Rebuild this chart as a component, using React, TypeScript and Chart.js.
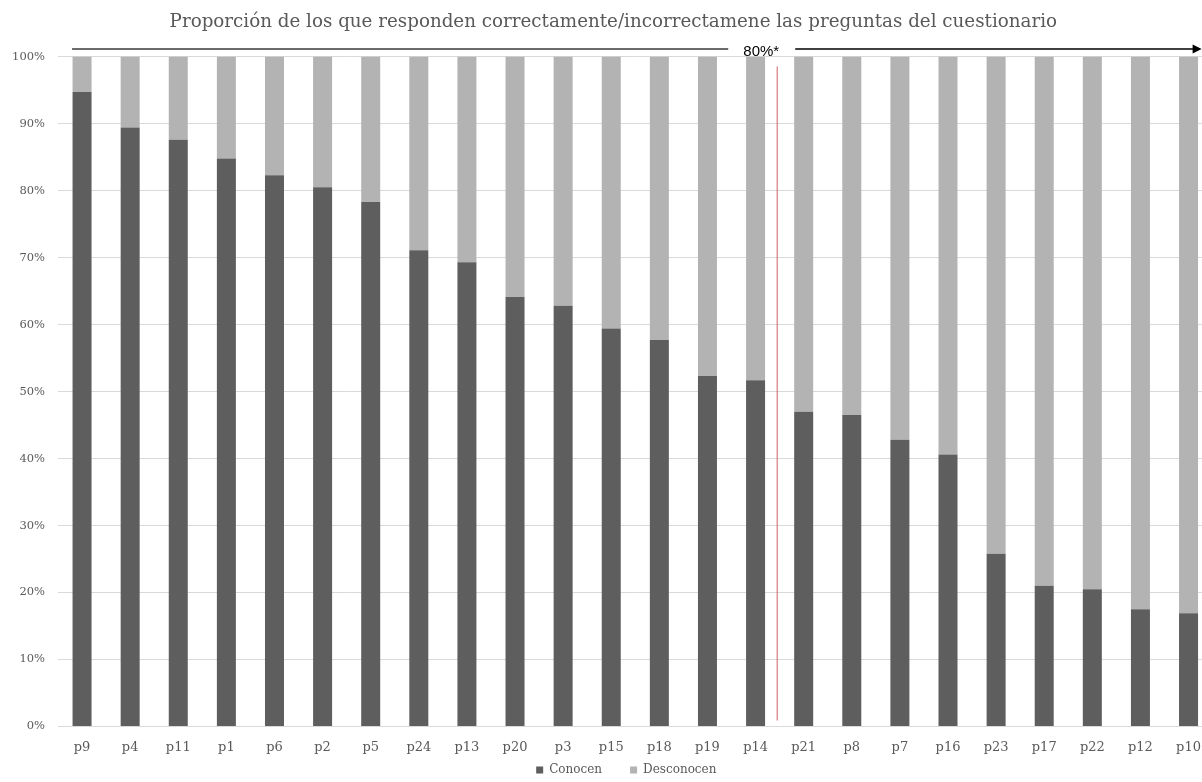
import { useEffect, useRef } from 'react';
import { Chart, registerables } from 'chart.js';

Chart.register(...registerables);

const categories = ['p9', 'p4', 'p11', 'p1', 'p6', 'p2', 'p5', 'p24', 'p13', 'p20', 'p3', 'p15', 'p18', 'p19', 'p14', 'p21', 'p8', 'p7', 'p16', 'p23', 'p17', 'p22', 'p12', 'p10'];
const conocen = [94.7, 89.4, 87.6, 84.8, 82.3, 80.5, 78.3, 71.1, 69.3, 64.1, 62.8, 59.4, 57.7, 52.3, 51.7, 47.0, 46.5, 42.8, 40.6, 25.8, 21.0, 20.5, 17.5, 16.9];
const desconocen = [5.3, 10.6, 12.4, 15.2, 17.7, 19.5, 21.7, 28.9, 30.7, 35.9, 37.2, 40.6, 42.3, 47.7, 48.3, 53.0, 53.5, 57.2, 59.4, 74.2, 79.0, 79.5, 82.5, 83.1];
const seriesNames = ['Conocen', 'Desconocen'];
const titleText = 'Proporción de los que responden correctamente/incorrectamene las preguntas del cuestionario';
const markerLabel = '80%*';
const markerPosition = 14.45; // in category units, between p14 and p21

const SERIF = "'DejaVu Serif', serif";
const TEXT = '#595959';

const annotationPlugin = {
  id: 'arrowAnnotation',
  afterLayout(chart: any) {
    const lg = chart.legend;
    if (lg) {
      const h = lg.bottom - lg.top;
      lg.top = chart.chartArea.bottom + 9.5;
      lg.bottom = lg.top + h;
      lg.left += 20;
      lg.right += 20;
    }
    const tb = chart.titleBlock;
    if (tb) {
      tb.left += 7;
      tb.right += 7;
    }
  },
  afterDatasetsDraw(chart: any) {
    const { ctx, chartArea, scales } = chart;
    const x = scales.x;
    const a = x.getPixelForValue(Math.floor(markerPosition));
    const b = x.getPixelForValue(Math.floor(markerPosition) + 1);
    const rx = a + (b - a) * (markerPosition - Math.floor(markerPosition));
    ctx.save();
    // red vertical line
    ctx.strokeStyle = 'rgba(205,90,90,0.8)';
    ctx.lineWidth = 1.2;
    ctx.beginPath();
    ctx.moveTo(rx, chartArea.top + 10);
    ctx.lineTo(rx, chartArea.bottom - 6);
    ctx.stroke();

    // arrow line
    const ly = chartArea.top - 7.5;
    const startX = x.getPixelForValue(0) - 10;
    const tipX = chartArea.right - 11;
    ctx.lineWidth = 1.6;
    ctx.strokeStyle = '#3a3a3a';
    ctx.beginPath();
    ctx.moveTo(startX, ly);
    ctx.lineTo(rx - 49, ly);
    ctx.stroke();
    ctx.strokeStyle = '#000000';
    ctx.beginPath();
    ctx.moveTo(rx + 18, ly);
    ctx.lineTo(tipX - 7, ly);
    ctx.stroke();
    ctx.fillStyle = '#000000';
    ctx.beginPath();
    ctx.moveTo(tipX, ly);
    ctx.lineTo(tipX - 9, ly - 4.5);
    ctx.lineTo(tipX - 9, ly + 4.5);
    ctx.closePath();
    ctx.fill();

    // label
    ctx.font = "15px 'Liberation Sans', Arial, sans-serif";
    ctx.fillStyle = '#000000';
    ctx.textAlign = 'center';
    ctx.textBaseline = 'middle';
    ctx.fillText(markerLabel, rx - 16, ly + 3);
    ctx.restore();
  },
};

export default function App() {
  const canvasRef = useRef<HTMLCanvasElement | null>(null);

  useEffect(() => {
    const canvas = canvasRef.current;
    if (!canvas) return;
    const chart = new Chart(canvas, {
      type: 'bar',
      data: {
        labels: categories,
        datasets: [
          {
            label: seriesNames[0],
            data: conocen,
            backgroundColor: '#5e5e5e',
            borderWidth: 0,
            barPercentage: 0.395,
            categoryPercentage: 1,
          },
          {
            label: seriesNames[1],
            data: desconocen,
            backgroundColor: '#b3b3b3',
            borderWidth: 0,
            barPercentage: 0.395,
            categoryPercentage: 1,
          },
        ],
      },
      options: {
        responsive: false,
        animation: false,
        devicePixelRatio: 1,
        layout: { padding: { left: 0, right: 1.4, top: 0, bottom: 0 } },
        plugins: {
          title: {
            display: true,
            text: titleText,
            color: TEXT,
            font: { family: SERIF, size: 18.3, weight: 'normal', lineHeight: 1.2 },
            padding: { top: 11, bottom: 23.6 },
          },
          legend: {
            display: true,
            position: 'bottom',
            labels: {
              boxWidth: 7,
              boxHeight: 7,
              padding: 28,
              color: TEXT,
              font: { family: SERIF, size: 12 },
            },
          },
          tooltip: { enabled: false },
        },
        scales: {
          x: {
            stacked: true,
            grid: { display: false },
            border: { display: false },
            ticks: {
              color: TEXT,
              font: { family: SERIF, size: 13 },
              padding: 5,
              maxRotation: 0,
              autoSkip: false,
            },
            afterFit: (scale: any) => {
              scale.height = 30.5;
            },
          },
          y: {
            stacked: true,
            min: 0,
            max: 100,
            grid: { color: '#d9d9d9', lineWidth: 1, drawTicks: false },
            border: { display: false },
            ticks: {
              stepSize: 10,
              color: TEXT,
              padding: 13,
              font: { family: SERIF, size: 11.5 },
              callback: (v: any) => v + '%',
            },
            afterFit: (scale: any) => {
              scale.width = 58;
            },
          },
        },
      },
      plugins: [annotationPlugin],
    } as any);
    return () => chart.destroy();
  }, []);

  return (
    <div
      style={{
        position: 'absolute',
        left: 0,
        top: 0,
        width: 1202,
        height: 782,
        overflow: 'hidden',
        background: '#ffffff',
      }}
    >
      <canvas ref={canvasRef} width={1214} height={807} style={{ display: 'block' }} />
    </div>
  );
}
